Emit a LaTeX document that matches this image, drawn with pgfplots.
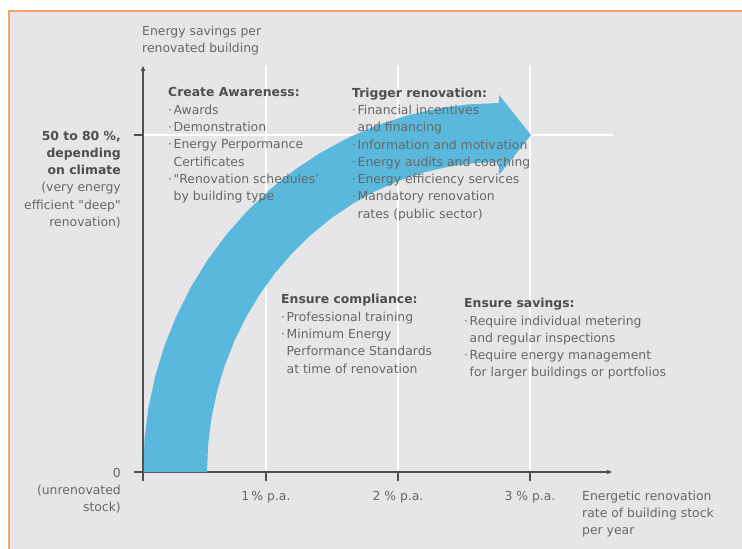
\documentclass[border=0pt]{standalone}
\usepackage{fontspec}
\setmainfont{DejaVu Sans}
\usepackage{pgfplots}
\pgfplotsset{compat=1.18}
\usetikzlibrary{arrows.meta}

\definecolor{panel}{HTML}{E6E6E8}
\definecolor{frame}{HTML}{F2A46E}
\definecolor{arrowblue}{HTML}{5AB8DC}
\definecolor{axisgray}{HTML}{4F4F4F}
\definecolor{txt}{HTML}{676767}
\definecolor{head}{HTML}{4E4E4E}

\newcommand{\bl}{\makebox[5.5pt][l]{·}}
\newcommand{\ind}{\hspace*{5.5pt}}
\newcommand{\hd}[1]{{\bfseries\color{head}#1}}

\begin{document}
\begin{tikzpicture}[font=\fontsize{12.4}{17.3}\selectfont]
\useasboundingbox (0pt,0pt) rectangle (742pt,549pt);
\fill[white] (0pt,0pt) rectangle (742pt,549pt);
\fill[panel] (9pt,0pt) rectangle (742pt,538pt);
\draw[frame, line width=1.5pt] (9pt,0pt) -- (9pt,538pt) -- (742pt,538pt);

\begin{axis}[
  at={(143pt,77pt)}, anchor=south west,
  scale only axis, width=470pt, height=407pt,
  xmin=0.0682, xmax=3.629, ymin=0, ymax=78.5,
  axis lines=left,
  axis line style={draw=axisgray, line width=1.6pt, -{Latex[length=6pt,width=5pt]}},
  xtick={0.0682,1,2,3},
  xticklabels={,1\,\% p.a.,2 \% p.a.,3 \% p.a.},
  ytick={0,65},
  yticklabels={{0\\(unrenovated\\stock)},{\hd{50 to 80 \%,}\\\hd{depending}\\\hd{on climate}\\(very energy\\efficient \textquotedbl deep\textquotedbl\\renovation)}},
  tick align=outside, major tick length=9pt,
  tick style={draw=axisgray, line width=1.6pt},
  grid=major, major grid style={draw=white, line width=1.7pt},
  tick label style={font=\fontsize{12.4}{17.3}\selectfont, text=txt, inner sep=0pt},
  xticklabel style={anchor=base, yshift=-19pt},
  yticklabel style={anchor=north east, align=right, xshift=-13pt, yshift=4.3pt},
]
\addplot[fill=arrowblue, draw=none, forget plot] coordinates {
  (0.0745,0) (0.0785,6.203) (0.1092,12.359) (0.1601,18.420) (0.2309,24.342)
  (0.3209,30.078) (0.4295,35.585) (0.5559,40.822) (0.6992,45.747) (0.8581,50.325)
  (1.0316,54.519) (1.2183,58.299) (1.4167,61.635) (1.6254,64.502) (1.8428,66.878)
  (2.0672,68.745) (2.2969,70.089) (2.5301,70.899) (2.7652,71.17)
  (2.7652,72.72) (3.0076,65.0) (2.7652,57.29)
  (2.7652,59.79) (2.5724,59.563) (2.3811,58.882) (2.1927,57.753) (2.0086,56.184)
  (1.8303,54.188) (1.6591,51.780) (1.4964,48.977) (1.3433,45.802) (1.2010,42.278)
  (1.0706,38.432) (0.9532,34.294) (0.8495,29.895) (0.7604,25.268) (0.6865,20.449)
  (0.6285,15.475) (0.5867,10.383) (0.5615,5.211) (0.5531,0)
};
\end{axis}

\begin{scope}[every node/.style={inner sep=0pt, align=left, anchor=north west, text=txt}]
\node at (142pt,523.4pt) {Energy savings per\\renovated building};
\node at (582pt,58.3pt) {Energetic renovation\\rate of building stock\\per year};
\node at (168pt,461.5pt) {\hd{Create Awareness:}\\\bl Awards\\\bl Demonstration\\\bl Energy Perpormance\\\ind Certificates\\\bl \textquotedbl Renovation schedules'\\\ind by building type};
\node at (352pt,461.5pt) {\hd{Trigger renovation:}\\\bl Financial incentives\\\ind and financing\\\bl Information and motivation\\\bl Energy audits and coaching\\\bl Energy efficiency services\\\bl Mandatory renovation\\\ind rates (public sector)};
\node at (281pt,254.7pt) {\hd{Ensure compliance:}\\\bl Professional training\\\bl Minimum Energy\\\ind Performance Standards\\\ind at time of renovation};
\node at (464pt,250.9pt) {\hd{Ensure savings:}\\\bl Require individual metering\\\ind and regular inspections\\\bl Require energy management\\\ind for larger buildings or portfolios};
\end{scope}
\end{tikzpicture}
\end{document}
